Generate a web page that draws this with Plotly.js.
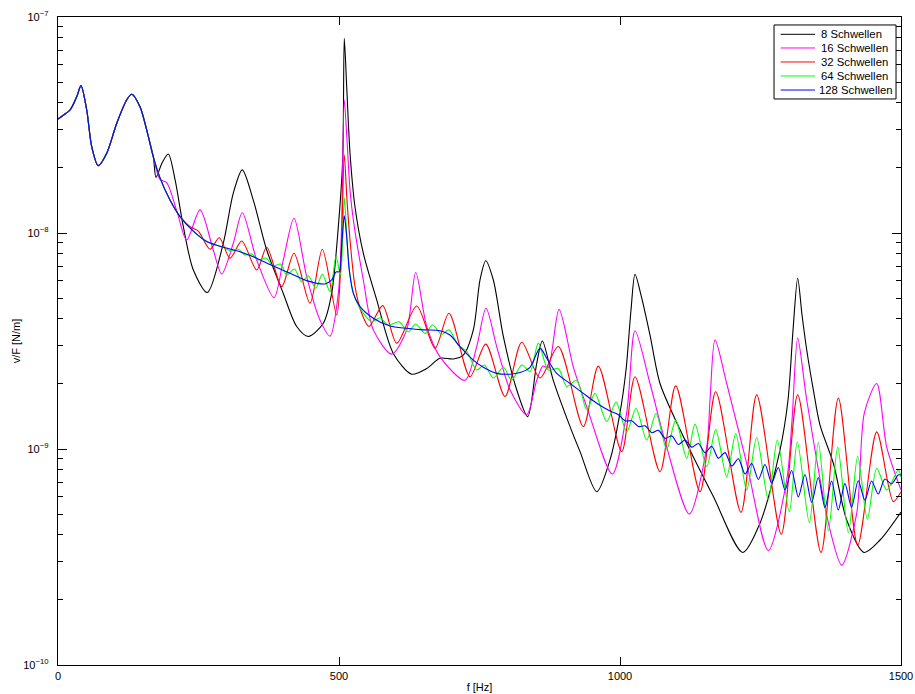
<!DOCTYPE html>
<html><head><meta charset="utf-8">
<script src="https://cdn.plot.ly/plotly-3.0.1.min.js"></script>
<style>html,body{margin:0;padding:0;background:#fff}</style>
</head><body><div id="chart" style="width:915px;height:694px"></div>
<script>
// Shared low-frequency section (identical for all sleeper counts)
const fCommon = [0, 9.4, 21.4, 33.3, 40.9, 51.1, 60.0, 71.7, 86.7, 104.5, 122.2, 131.1, 145.9, 157.8, 169.6];
const vCommon = [3.37e-8, 3.51e-8, 3.71e-8, 4.27e-8, 4.81e-8, 3.71e-8, 2.51e-8, 2.05e-8, 2.34e-8, 3.22e-8, 4.13e-8, 4.39e-8, 3.84e-8, 3.00e-8, 2.25e-8];

// 8 Schwellen
const f8 = fCommon.concat([174.4, 185.1, 196.3, 208.2, 223.0, 240.8, 265.7, 294.1, 311.9, 327.9, 347.5, 371.4, 400.9, 424.7, 445.4, 472.1, 487.0, 498.8, 506.6, 509.4, 513.7, 519.6, 528.5, 543.3, 567.1, 596.6, 629.4, 656.1, 679.7, 703.4, 721.2, 739.0, 750.9, 761.1, 774.6, 792.4, 816.2, 835.8, 851.8, 861.8, 881.3, 911.1, 928.9, 958.6, 982.2, 1000.0, 1010.7, 1019.6, 1026.7, 1037.4, 1053.4, 1071.2, 1106.8, 1166.1, 1218.4, 1249.1, 1284.7, 1299.0, 1307.9, 1316.2, 1323.9, 1332.2, 1344.0, 1355.9, 1379.6, 1403.4, 1434.2, 1462.7, 1500]);
const v8 = vCommon.concat([1.81e-8, 2.11e-8, 2.32e-8, 1.77e-8, 1.07e-8, 6.74e-9, 5.30e-9, 8.96e-9, 1.53e-8, 1.96e-8, 1.42e-8, 8.34e-9, 5.25e-9, 3.69e-9, 3.32e-9, 3.82e-9, 5.25e-9, 1.07e-8, 2.18e-8, 7.97e-8, 4.76e-8, 2.34e-8, 1.32e-8, 8.06e-9, 4.90e-9, 2.77e-9, 2.22e-9, 2.36e-9, 2.63e-9, 2.61e-9, 2.72e-9, 3.56e-9, 6.06e-9, 7.44e-9, 6.06e-9, 3.32e-9, 1.88e-9, 1.41e-9, 2.49e-9, 3.16e-9, 2.08e-9, 1.27e-9, 9.72e-10, 6.34e-10, 8.90e-10, 1.47e-9, 2.32e-9, 4.41e-9, 6.44e-9, 5.16e-9, 3.37e-9, 2.01e-9, 1.23e-9, 6.02e-10, 3.32e-10, 4.53e-10, 9.89e-10, 1.69e-9, 3.56e-9, 6.17e-9, 4.17e-9, 2.88e-9, 1.88e-9, 1.29e-9, 8.59e-10, 4.69e-10, 3.32e-10, 3.79e-10, 5.11e-10]);

// 16 Schwellen
const f16 = fCommon.concat([181.5, 193.4, 211.2, 229.0, 252.7, 276.3, 291.3, 311.9, 327.9, 353.6, 384.4, 400.9, 419.9, 442.5, 466.2, 484.0, 498.8, 504.5, 509.4, 514.2, 519.6, 525.5, 543.3, 561.1, 593.8, 620.5, 636.5, 656.1, 679.7, 724.2, 745.0, 761.6, 780.6, 804.3, 834.0, 851.8, 863.0, 871.9, 891.5, 916.9, 940.8, 986.3, 1011.9, 1026.7, 1053.4, 1083.1, 1123.3, 1154.3, 1160.2, 1169.1, 1189.9, 1225.4, 1263.9, 1296.6, 1306.1, 1316.2, 1332.2, 1373.7, 1394.5, 1421.2, 1434.8, 1456.8, 1474.6, 1500]);
const v16 = vCommon.concat([1.77e-8, 1.71e-8, 1.27e-8, 9.28e-9, 1.28e-8, 8.34e-9, 6.46e-9, 8.96e-9, 1.24e-8, 7.50e-9, 5.02e-9, 7.50e-9, 1.17e-8, 6.28e-9, 3.95e-9, 3.33e-9, 5.25e-9, 1.04e-8, 4.13e-8, 2.70e-8, 1.58e-8, 1.15e-8, 6.06e-9, 3.56e-9, 2.75e-9, 3.56e-9, 6.58e-9, 3.69e-9, 2.67e-9, 2.08e-9, 2.98e-9, 4.48e-9, 2.98e-9, 1.88e-9, 1.44e-9, 2.08e-9, 2.42e-9, 2.37e-9, 4.43e-9, 2.40e-9, 1.57e-9, 7.66e-10, 1.47e-9, 3.53e-9, 2.01e-9, 1.02e-9, 5.00e-10, 1.02e-9, 1.69e-9, 3.20e-9, 2.01e-9, 8.59e-10, 3.38e-10, 7.18e-10, 1.36e-9, 3.26e-9, 1.69e-9, 4.22e-10, 2.90e-10, 5.04e-10, 1.47e-9, 2.01e-9, 1.02e-9, 6.46e-10]);

// 32 Schwellen
const f32 = fCommon.concat([181.5, 199.3, 217.1, 234.9, 249.6, 270.5, 287.0, 306.1, 326.9, 353.6, 371.4, 398.1, 419.9, 448.4, 470.3, 495.9, 503.6, 509.4, 514.2, 519.6, 528.5, 540.4, 553.4, 577.8, 602.7, 638.3, 670.8, 695.7, 733.1, 761.1, 795.4, 825.1, 857.7, 890.2, 934.7, 961.4, 1003.1, 1026.7, 1071.2, 1099.1, 1142.4, 1170.3, 1215.3, 1243.2, 1287.0, 1316.2, 1357.7, 1388.5, 1423.0, 1456.8, 1486.3, 1500]);
const v32 = vCommon.concat([1.80e-8, 1.42e-8, 1.19e-8, 1.07e-8, 1.02e-8, 8.41e-9, 9.51e-9, 7.64e-9, 9.18e-9, 6.74e-9, 8.59e-9, 5.65e-9, 8.06e-9, 4.73e-9, 8.41e-9, 4.17e-9, 7.50e-9, 2.30e-8, 1.42e-8, 9.28e-9, 5.65e-9, 4.25e-9, 3.69e-9, 4.61e-9, 3.09e-9, 4.59e-9, 2.93e-9, 4.25e-9, 2.16e-9, 3.06e-9, 1.75e-9, 3.12e-9, 2.13e-9, 2.98e-9, 1.27e-9, 2.42e-9, 9.72e-10, 2.16e-9, 7.85e-10, 1.96e-9, 6.34e-10, 1.84e-9, 5.09e-10, 1.78e-9, 4.03e-10, 1.78e-9, 3.32e-10, 1.72e-9, 3.59e-10, 1.20e-9, 5.71e-10, 6.34e-10]);

// 64 Schwellen
const f64 = fCommon.concat([181.5, 199.3, 217.1, 240.8, 264.6, 294.1, 307.8, 320.3, 332.7, 344.7, 355.9, 370.1, 382.6, 396.3, 407.0, 420.5, 433.6, 445.4, 458.6, 470.3, 484.0, 494.7, 502.7, 509.4, 514.2, 519.5, 528.5, 543.3, 558.2, 573.0, 587.7, 606.8, 623.3, 636.5, 653.0, 666.4, 682.8, 695.7, 711.8, 727.8, 745.0, 758.6, 774.6, 792.4, 807.3, 825.1, 839.9, 854.7, 872.4, 890.2, 905.2, 923.0, 940.8, 955.5, 976.4, 992.9, 1011.9, 1028.5, 1047.5, 1064.1, 1083.1, 1099.1, 1118.7, 1133.5, 1154.3, 1170.3, 1189.9, 1205.9, 1225.4, 1243.2, 1263.9, 1279.9, 1301.3, 1315.5, 1336.9, 1352.9, 1370.7, 1387.4, 1406.3, 1423.0, 1440.1, 1456.8, 1474.6, 1495.2, 1500]);
const v64 = vCommon.concat([1.80e-8, 1.42e-8, 1.19e-8, 1.02e-8, 9.13e-9, 8.59e-9, 8.25e-9, 8.43e-9, 7.91e-9, 8.00e-9, 7.50e-9, 7.66e-9, 7.03e-9, 7.18e-9, 6.39e-9, 6.81e-9, 5.95e-9, 6.34e-9, 5.55e-9, 6.44e-9, 5.35e-9, 7.77e-9, 6.39e-9, 1.46e-8, 9.28e-9, 6.39e-9, 5.00e-9, 4.25e-9, 3.88e-9, 4.05e-9, 3.75e-9, 3.88e-9, 3.49e-9, 3.79e-9, 3.43e-9, 3.75e-9, 3.39e-9, 3.56e-9, 3.03e-9, 2.82e-9, 2.32e-9, 2.45e-9, 2.13e-9, 2.39e-9, 2.08e-9, 2.45e-9, 2.28e-9, 3.09e-9, 2.32e-9, 2.36e-9, 1.95e-9, 2.08e-9, 1.52e-9, 1.81e-9, 1.34e-9, 1.65e-9, 1.20e-9, 1.54e-9, 1.10e-9, 1.46e-9, 9.97e-10, 1.36e-9, 9.06e-10, 1.30e-9, 8.28e-10, 1.23e-9, 7.44e-10, 1.18e-9, 6.46e-10, 1.13e-9, 5.81e-10, 1.10e-9, 5.12e-10, 1.08e-9, 4.56e-10, 1.07e-9, 4.17e-10, 1.02e-9, 4.10e-10, 9.28e-10, 4.73e-10, 8.14e-10, 6.46e-10, 8.00e-10, 7.42e-10]);

// 128 Schwellen
const f128 = fCommon.concat([181.5, 199.3, 217.1, 240.8, 264.6, 294.1, 323.9, 353.6, 383.1, 412.8, 442.5, 460.3, 475.1, 487.0, 494.7, 500.5, 504.8, 509.4, 513.7, 518.3, 525.5, 537.4, 561.1, 590.8, 620.5, 650.0, 679.7, 697.5, 715.3, 739.0, 756.8, 780.6, 804.3, 822.1, 839.9, 857.7, 869.6, 887.4, 911.1, 934.7, 958.6, 982.2, 997.3, 1009.2, 1021.0, 1032.9, 1044.7, 1056.6, 1068.4, 1080.3, 1092.1, 1104.0, 1115.8, 1127.7, 1139.5, 1151.4, 1163.2, 1175.1, 1186.9, 1198.8, 1210.6, 1222.5, 1234.3, 1246.2, 1258.0, 1269.9, 1281.7, 1293.6, 1305.4, 1317.3, 1329.1, 1341.0, 1352.8, 1364.7, 1376.5, 1388.4, 1400.2, 1412.1, 1423.9, 1435.8, 1447.6, 1459.5, 1471.3, 1483.2, 1495.0, 1500]);
const v128 = vCommon.concat([1.80e-8, 1.42e-8, 1.19e-8, 1.02e-8, 9.13e-9, 8.59e-9, 8.19e-9, 7.64e-9, 7.03e-9, 6.51e-9, 6.02e-9, 5.85e-9, 5.81e-9, 6.06e-9, 6.60e-9, 6.62e-9, 8.80e-9, 1.20e-8, 9.61e-9, 6.74e-9, 5.25e-9, 4.56e-9, 4.03e-9, 3.71e-9, 3.62e-9, 3.56e-9, 3.53e-9, 3.37e-9, 2.98e-9, 2.58e-9, 2.39e-9, 2.24e-9, 2.22e-9, 2.26e-9, 2.39e-9, 2.93e-9, 2.63e-9, 2.24e-9, 2.01e-9, 1.81e-9, 1.63e-9, 1.50e-9, 1.44e-9, 1.35e-9, 1.35e-9, 1.27e-9, 1.28e-9, 1.19e-9, 1.22e-9, 1.12e-9, 1.15e-9, 1.05e-9, 1.10e-9, 1.02e-9, 1.06e-9, 9.61e-10, 1.03e-9, 9.06e-10, 9.62e-10, 8.34e-10, 9.02e-10, 7.66e-10, 8.57e-10, 7.23e-10, 8.48e-10, 6.96e-10, 8.21e-10, 6.46e-10, 7.95e-10, 6.00e-10, 7.62e-10, 5.66e-10, 7.38e-10, 5.36e-10, 7.11e-10, 5.22e-10, 6.91e-10, 5.38e-10, 7.13e-10, 5.79e-10, 7.11e-10, 6.19e-10, 7.26e-10, 6.89e-10, 7.58e-10, 7.58e-10]);

const seriesNames = ["8 Schwellen", "16 Schwellen", "32 Schwellen", "64 Schwellen", "128 Schwellen"];
const seriesColors = ["#000000", "#ff00ff", "#ff0000", "#00ff00", "#0000ff"];
const xTickVals = [0, 500, 1000, 1500];
const yTickVals = [1e-10, 1e-9, 1e-8, 1e-7];
const yTickText = ["10<sup>\u221210</sup>", "10<sup>\u22129</sup>", "10<sup>\u22128</sup>", "10<sup>\u22127</sup>"];

const xs = [f8, f16, f32, f64, f128];
const ys = [v8, v16, v32, v64, v128];

const FONT = "Liberation Sans, Arial, Helvetica, sans-serif";

const traces = seriesNames.map((n, i) => ({
  type: "scatter", mode: "lines", name: n,
  x: xs[i], y: ys[i],
  line: {color: seriesColors[i], width: 1.1, shape: "spline", smoothing: 0.8},
  showlegend: false, hoverinfo: "skip"
}));

// minor tick positions for log axis (2..9 in each decade)
const minorVals = [];
for (let d = -10; d < -7; d++) for (let k = 2; k <= 9; k++) minorVals.push(k * Math.pow(10, d));

// manual legend (paper coordinates)
const L = {x0: 0.8494, x1: 0.9941, y0: 0.8735, y1: 0.9877, lx0: 0.8573, lx1: 0.8980, tx: 0.9040};
const legendY = [0.9733, 0.9522, 0.9306, 0.9090, 0.8873];
const shapes = [{type: "rect", xref: "paper", yref: "paper", x0: L.x0, x1: L.x1, y0: L.y0, y1: L.y1,
  line: {color: "#000", width: 1}, fillcolor: "#fff", layer: "above"}];
const annotations = [];
seriesNames.forEach((n, i) => {
  shapes.push({type: "line", xref: "paper", yref: "paper", x0: L.lx0, x1: L.lx1, y0: legendY[i], y1: legendY[i],
    line: {color: seriesColors[i], width: 1}, layer: "above"});
  annotations.push({xref: "paper", yref: "paper", x: i === 4 ? L.tx - 0.003 : L.tx, y: legendY[i], text: n,
    showarrow: false, xanchor: "left", yanchor: "middle", font: {family: FONT, size: 11.3, color: "#000"}, borderpad: 0});
});

const layout = {
  width: 915, height: 694,
  margin: {l: 58, r: 14, t: 17, b: 29},
  paper_bgcolor: "#fff", plot_bgcolor: "#fff",
  font: {family: FONT, size: 11, color: "#000"},
  xaxis: {
    range: [0, 1500], tickmode: "array", tickvals: xTickVals,
    ticks: "inside", ticklen: 8, tickcolor: "#000", tickwidth: 1,
    showline: true, linecolor: "#000", linewidth: 1.3, mirror: "ticks",
    showgrid: false, zeroline: false,
    tickfont: {family: FONT, size: 11, color: "#000"},
    title: {text: "f [Hz]", font: {family: FONT, size: 11, color: "#000"}, standoff: 2},
    automargin: false
  },
  yaxis: {
    type: "log", range: [-10, -7], tickmode: "array", tickvals: yTickVals, ticktext: yTickText,
    ticks: "inside", ticklen: 9, tickcolor: "#000", tickwidth: 1,
    minor: {tickmode: "array", tickvals: minorVals, ticks: "inside", ticklen: 5, tickcolor: "#000", tickwidth: 1, showgrid: false},
    showline: true, linecolor: "#000", linewidth: 1.3, mirror: "ticks",
    showgrid: false, zeroline: false,
    tickfont: {family: FONT, size: 11, color: "#000"},
    ticklabelstandoff: 6,
    title: {text: "v/F [N/m]", font: {family: FONT, size: 11, color: "#000"}, standoff: 0},
    automargin: false
  },
  shapes: shapes,
  annotations: annotations
};

Plotly.newPlot("chart", traces, layout, {displayModeBar: false, staticPlot: true});
</script></body></html>
